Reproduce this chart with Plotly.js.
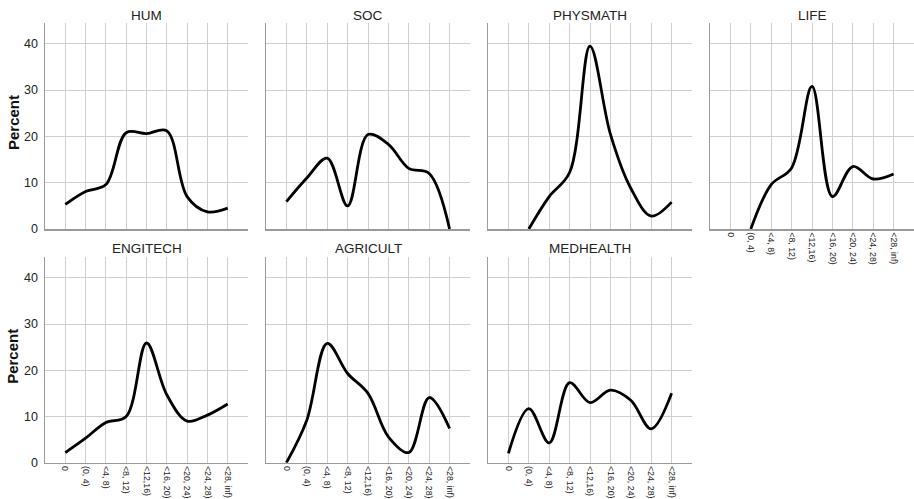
<!DOCTYPE html>
<html>
<head>
<meta charset="utf-8">
<script src="https://cdn.plot.ly/plotly-3.0.1.min.js"></script>
<style>html,body{margin:0;padding:0;background:#fff;}#chart{width:914px;height:499px;}</style>
</head>
<body>
<div id="chart"></div>
<script>
// Categories (x) and tick labels
var categories = ["0", "(0, 4)", "<4, 8)", "<8, 12)", "<12,16)", "<16, 20)", "<20, 24)", "<24, 28)", "<28, inf)"];
var panelNames = ["HUM", "SOC", "PHYSMATH", "LIFE", "ENGITECH", "AGRICULT", "MEDHEALTH"];
var yTicks = [0, 10, 20, 30, 40];

// Percent values per panel (null = no value drawn)
var HUM       = [5.3, 8.1, 9.6, 20.8, 20.6, 21.2, 7.0, 3.7, 4.5];
var SOC       = [5.9, 11.0, 15.3, 5.0, 20.4, 18.3, 13.1, 12.0, 0.0];
var PHYSMATH  = [null, 0.0, 7.0, 12.2, 39.5, 20.5, 8.8, 2.8, 5.8];
var LIFE      = [null, 0.0, 9.6, 13.2, 30.8, 7.0, 13.5, 10.8, 11.9];
var ENGITECH  = [2.2, 5.3, 8.7, 10.0, 25.9, 14.7, 9.0, 10.3, 12.7];
var AGRICULT  = [0.0, 9.2, 25.8, 19.3, 15.0, 5.6, 2.2, 14.1, 7.4];
var MEDHEALTH = [2.0, 11.7, 4.3, 17.3, 13.0, 15.7, 13.5, 7.3, 15.0];

var seriesList = [HUM, SOC, PHYSMATH, LIFE, ENGITECH, AGRICULT, MEDHEALTH];

var W = 914, H = 499;
var colsPx = [[45, 248], [266, 470], [488, 692], [710, 914]];
var rowsPx = [[23, 229], [257, 462.7]];

var catIdx = categories.map(function (c, i) { return i; });
var tickText = categories.map(function (c) { return c.replace(/</g, "&lt;"); });

var data = [];
var layout = {
  width: W, height: H,
  margin: {l: 0, r: 0, t: 0, b: 0},
  paper_bgcolor: "#fff", plot_bgcolor: "#fff",
  showlegend: false,
  font: {family: "Liberation Sans, Arial, sans-serif", color: "#222"},
  annotations: []
};

for (var p = 0; p < panelNames.length; p++) {
  var row = p < 4 ? 0 : 1;
  var col = p < 4 ? p : p - 4;
  var n = p + 1;
  var xa = "xaxis" + (n === 1 ? "" : n), ya = "yaxis" + (n === 1 ? "" : n);
  var xr = "x" + (n === 1 ? "" : n), yr = "y" + (n === 1 ? "" : n);
  var cx = colsPx[col], ry = rowsPx[row];
  var showX = (row === 1) || (p === 3);
  var showY = (col === 0);

  data.push({
    x: catIdx, y: seriesList[p], type: "scatter", mode: "lines",
    line: {shape: "spline", smoothing: 1, color: "#000", width: 2.8},
    connectgaps: false,
    xaxis: xr, yaxis: yr, hoverinfo: "skip"
  });

  layout[xa] = {
    domain: [cx[0] / W, cx[1] / W],
    anchor: yr, range: [-1, 9],
    tickmode: "array", tickvals: catIdx, ticktext: tickText,
    showticklabels: showX, tickangle: 90,
    tickfont: {size: 8.8, color: "#222"},
    ticks: "", ticklabelstandoff: 0,
    showgrid: true, gridcolor: "#cfcfcf", gridwidth: 1,
    zeroline: false, showline: true, linecolor: "#9a9a9a", linewidth: 1.5,
    fixedrange: true
  };
  layout[ya] = {
    domain: [1 - ry[1] / H, 1 - ry[0] / H],
    anchor: xr, range: [0, 44.5],
    tickmode: "array", tickvals: yTicks,
    showticklabels: showY,
    tickfont: {size: 12.5, color: "#222"},
    ticks: "outside", ticklen: 3, tickcolor: "rgba(0,0,0,0)",
    showgrid: true, gridcolor: "#cfcfcf", gridwidth: 1,
    zeroline: false, showline: true, linecolor: "#9a9a9a", linewidth: 1.5,
    fixedrange: true
  };

  layout.annotations.push({
    text: panelNames[p], xref: "paper", yref: "paper",
    x: (cx[0] + cx[1]) / 2 / W, y: 1 - (ry[0] - 8) / H,
    xanchor: "center", yanchor: "middle", showarrow: false,
    font: {size: 13.5, color: "#222"}
  });

  if (showY) {
    layout.annotations.push({
      text: "<b>Percent</b>", xref: "paper", yref: "paper",
      x: 13 / W, y: 1 - ((ry[0] + ry[1]) / 2 - 3) / H,
      xanchor: "center", yanchor: "middle", showarrow: false, textangle: -90,
      font: {size: 15, color: "#111"}
    });
  }
}

Plotly.newPlot("chart", data, layout, {staticPlot: true, displayModeBar: false});
</script>
</body>
</html>
